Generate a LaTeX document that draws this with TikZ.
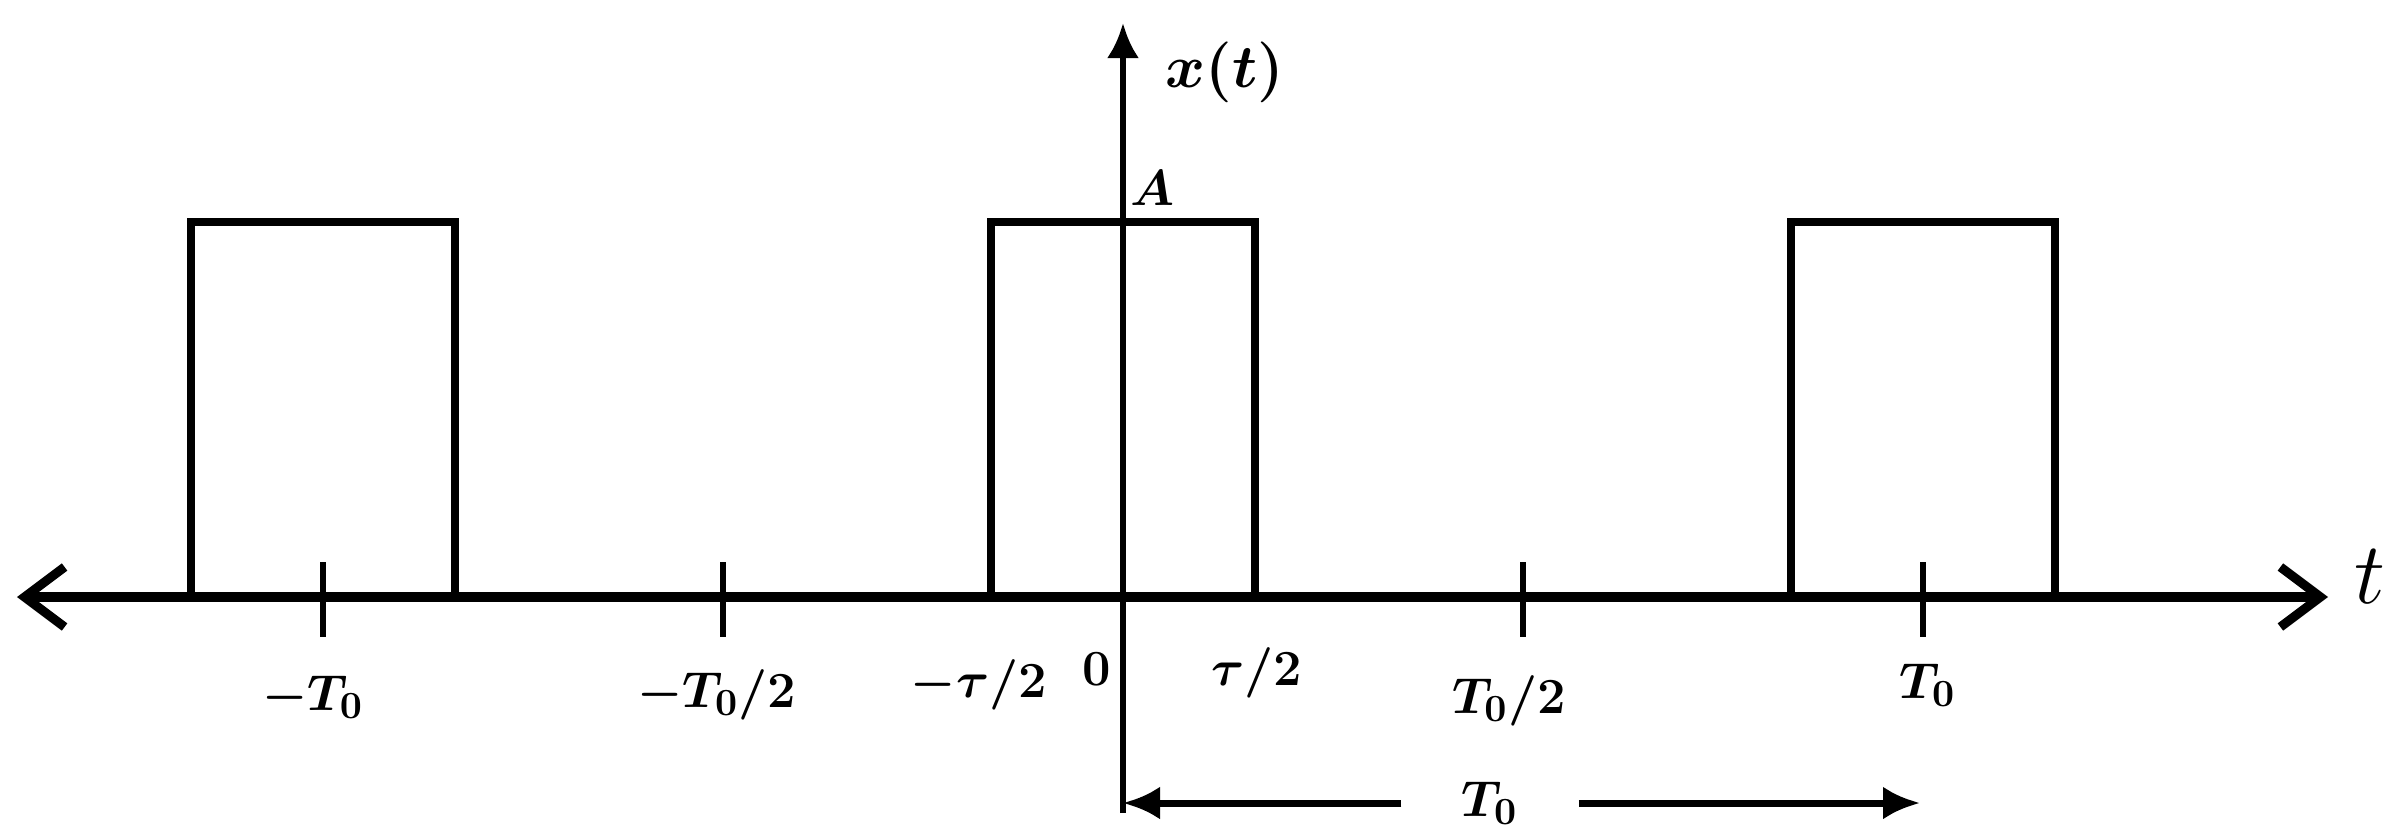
\documentclass[tikz,border=0pt]{standalone}
\usepackage{amsmath,amssymb}
\usepackage{tikz}
\usetikzlibrary{arrows.meta}

\begin{document}
\begin{tikzpicture}[x=1cm,y=1cm,>=Latex,
  lbl/.style={font=\fontsize{15}{17}\selectfont\boldmath,inner sep=1pt},
  axisline/.style={line width=2.6pt},
  pulse/.style={line width=2.2pt,line join=miter},
  tickmark/.style={line width=1.8pt},
  spanline/.style={line width=2pt,-{Latex[length=3.7mm,width=3.3mm]}}]
  \useasboundingbox (-11.23,-2.39) rectangle (12.71,5.97);
  % axes
  \coordinate (tL) at (-11.06,0);
  \coordinate (tR) at (12.05,0);
  \coordinate (yB) at (0,-2.16);
  \coordinate (yT) at (0,5.74);
  \draw[axisline,{Straight Barb[length=4mm,width=6mm]}-{Straight Barb[length=4mm,width=6mm]}] (tL) -- (tR);
  \node[font=\fontsize{34}{36}\selectfont] (tlab) at (12.47,0.2) {$t$};
  \draw[line width=1.8pt,-{Latex[length=3.5mm,width=3.2mm]}] (yB) -- (yT);
  \node[font=\fontsize{19}{21}\selectfont\boldmath,anchor=west] (xlab) at (0.3,5.25) {$x(t)$};
  \node[font=\fontsize{15}{17}\selectfont\boldmath] (amp) at (0.29,4.09) {$A$};
  % pulse train
  \foreach \c in {-8,0,8}
    \draw[pulse] (\c-1.32,0) -- (\c-1.32,3.75) -- (\c+1.32,3.75) -- (\c+1.32,0);
  \foreach \p in {-8,-4,4,8}
    \draw[tickmark] (\p,0.35) -- (\p,-0.4);
  % tick labels
  \node[lbl] (mT0) at (-8.1,-1.0) {$-T_0$};
  \node[lbl] (mhT0) at (-4.06,-0.98) {$-T_0/2$};
  \node[lbl] (mtau) at (-1.44,-0.88) {$-\tau/2$};
  \node[lbl] (zero) at (-0.26,-0.72) {$0$};
  \node[lbl] (ptau) at (1.34,-0.76) {$\tau/2$};
  \node[lbl] (hT0) at (3.86,-1.04) {$T_0/2$};
  \node[lbl] (T0) at (8.05,-0.88) {$T_0$};
  % period
  \coordinate (spanL) at (0,-2.06);
  \coordinate (spanR) at (7.97,-2.06);
  \node[lbl,inner xsep=0.6cm] (span) at (3.67,-2.06) {$T_0$};
  \draw[spanline] (span) -- (spanL);
  \draw[spanline] (span) -- (spanR);
\end{tikzpicture}
\end{document}
